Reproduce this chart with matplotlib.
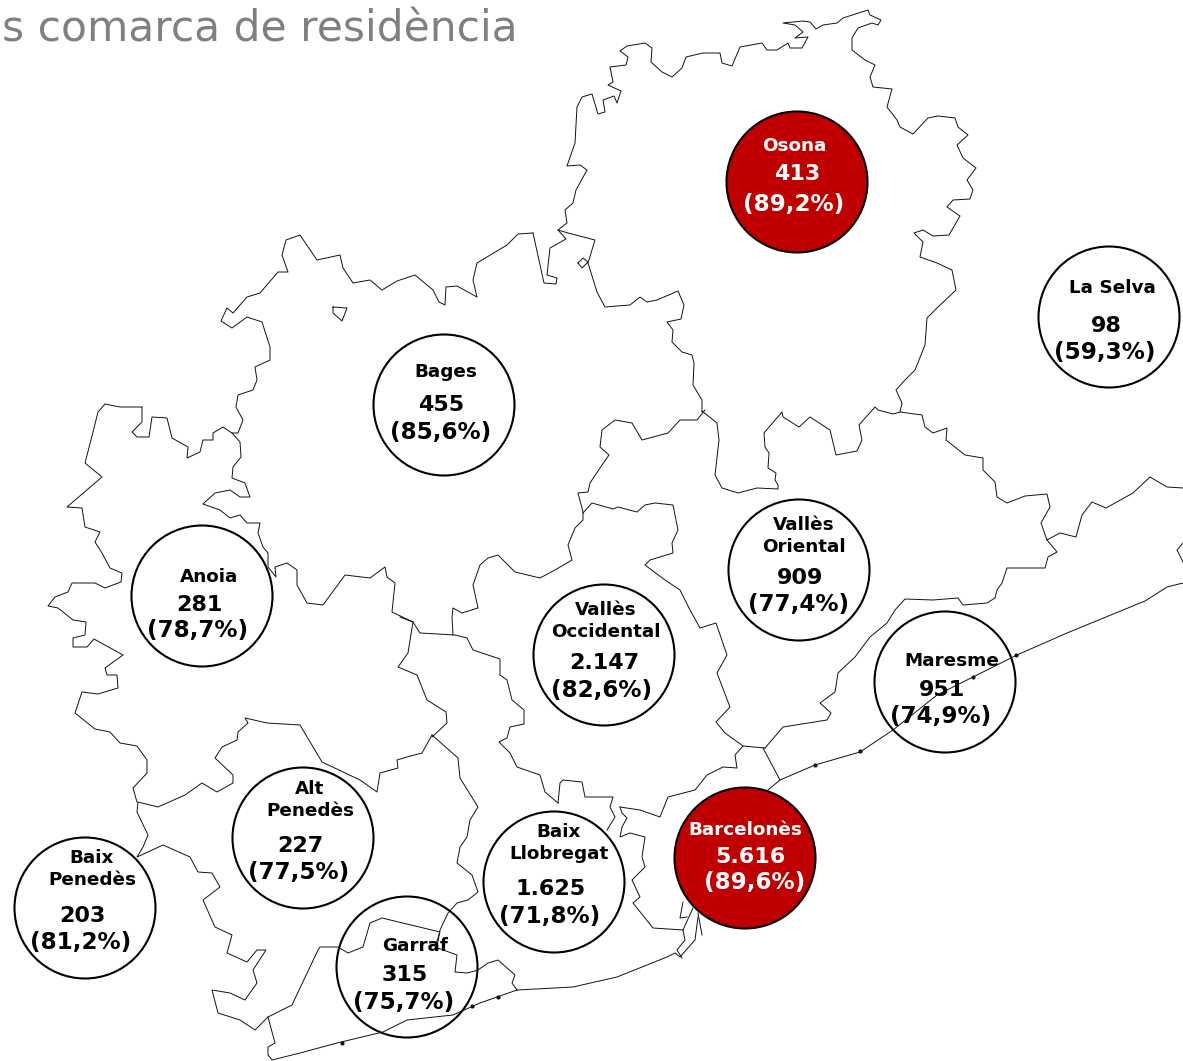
import matplotlib
matplotlib.use('Agg')
import matplotlib.pyplot as plt
from matplotlib.patches import Circle

title = 's comarca de residència'

# comarca names, students and percentages
names = ['Osona', 'Bages', 'La Selva', 'Vallès\nOriental', 'Anoia', 'Vallès\nOccidental',
         'Maresme', 'Alt\nPenedès', 'Baix\nLlobregat', 'Barcelonès', 'Baix\nPenedès', 'Garraf']
counts = ['413', '455', '98', '909', '281', '2.147', '951', '227', '1.625', '5.616', '203', '315']
shares = ['(89,2%)', '(85,6%)', '(59,3%)', '(77,4%)', '(78,7%)', '(82,6%)',
          '(74,9%)', '(77,5%)', '(71,8%)', '(89,6%)', '(81,2%)', '(75,7%)']
highlighted = ['Osona', 'Barcelonès']

# bubble centres on the map (pixels of the picture)
bubble_x = [797, 444, 1109, 799, 202, 604, 945, 303, 554, 745, 85, 407]
bubble_y = [182, 405, 317, 570, 596, 655, 682, 838, 882, 858, 908, 967]

# label anchors
name_x = [794, 446, 1112, 804, 209, 606, 952, 310, 559, 745, 92, 415]
name_y = [146, 372, 288, 536, 577, 621, 661, 800, 843, 830, 869, 946]
count_x = [797, 441, 1106, 800, 199, 604, 942, 300, 551, 750, 82, 405]
count_y = [174, 405, 326, 578, 605, 663, 690, 846, 889, 857, 916, 975]
share_x = [794, 441, 1105, 799, 198, 602, 941, 299, 550, 755, 81, 404]
share_y = [204, 432, 353, 605, 631, 690, 717, 872, 916, 882, 942, 1002]

osona_north = [(533, 233), (544, 283), (556, 284), (557, 278), (547, 275), (550, 248), (566, 239), (558, 230),
               (567, 223), (565, 210), (573, 203), (576, 190), (587, 170), (580, 165), (567, 166), (575, 143),
               (577, 107), (582, 97), (592, 94), (598, 114), (605, 112), (603, 100), (614, 96), (617, 103),
               (621, 91), (608, 85), (613, 82), (610, 67), (626, 65), (628, 57), (620, 51), (627, 46), (645, 43),
               (652, 48), (651, 62), (662, 72), (672, 77), (682, 68), (686, 57), (703, 53), (720, 53), (722, 63),
               (732, 66), (740, 47), (762, 43), (767, 50), (777, 50), (788, 43), (790, 48), (802, 48), (808, 37),
               (795, 38), (803, 32), (795, 25), (783, 23), (803, 21), (810, 22), (816, 29), (823, 25), (837, 23),
               (843, 18), (868, 10), (870, 15), (881, 20), (878, 25), (872, 23), (858, 28), (852, 38), (852, 50),
               (865, 60), (875, 65), (870, 77), (873, 87), (892, 89), (887, 107), (897, 120), (900, 127), (913, 134),
               (928, 118), (938, 116), (955, 118), (958, 127), (968, 135), (957, 145), (963, 158), (976, 168),
               (967, 180), (973, 190), (970, 199), (953, 200), (947, 207), (960, 216), (949, 235), (933, 236),
               (923, 230), (914, 233), (923, 242), (920, 257), (937, 263), (952, 270), (956, 290), (937, 308),
               (927, 318), (925, 345), (915, 370), (905, 380), (896, 390), (902, 403), (900, 412)]
osona_west = [(702, 412), (702, 400), (693, 385), (694, 363), (692, 355), (682, 352), (672, 342), (673, 330),
              (667, 322), (681, 319), (684, 305), (678, 291), (657, 300), (647, 302), (640, 297), (630, 305),
              (605, 307), (597, 292), (588, 263), (595, 240), (568, 233), (558, 230)]
enclave_a = [(333, 307), (347, 308), (342, 321), (333, 313), (333, 307)]
enclave_b = [(578, 263), (583, 258), (588, 262), (582, 268), (578, 263)]
oriental_north = [(702, 411), (717, 423), (719, 440), (715, 475), (722, 488), (738, 493), (757, 488), (778, 489),
                  (778, 485), (775, 480), (776, 473), (768, 468), (769, 453), (765, 447), (764, 433), (782, 412),
                  (783, 417), (799, 427), (810, 417), (830, 430), (836, 455), (857, 451), (862, 440), (859, 425),
                  (875, 407), (878, 410), (893, 414), (900, 412), (922, 415), (925, 427), (933, 433), (947, 428),
                  (946, 440), (965, 455), (983, 458), (983, 470), (995, 482), (997, 497), (1007, 503), (1025, 496),
                  (1047, 494), (1050, 507), (1041, 523), (1047, 540), (1057, 552), (1048, 557), (1045, 568),
                  (1025, 568), (1007, 568), (1002, 583), (997, 590), (995, 598), (987, 603), (963, 605), (958, 598),
                  (933, 600), (905, 599), (895, 610), (887, 623), (870, 637), (855, 657), (838, 673), (835, 692),
                  (820, 703), (831, 713), (827, 720), (783, 727), (765, 748)]
selva_south = [(1047, 540), (1060, 533), (1076, 537), (1082, 515), (1092, 502), (1106, 508), (1133, 493),
               (1150, 477), (1167, 487), (1183, 488)]
edge_piece = [(1183, 543), (1177, 550), (1183, 562)]
coast_north = [(1183, 583), (1167, 587), (1145, 601), (1067, 633), (1017, 655), (973, 677), (937, 695), (893, 730),
               (860, 752), (815, 765), (780, 780), (768, 790)]
maresme_south = [(763, 748), (780, 780)]
occidental_east = [(765, 748), (743, 746), (735, 755), (737, 768), (723, 767), (707, 775), (695, 790), (668, 797),
                   (660, 817), (640, 810), (620, 807)]
oriental_west = [(743, 746), (725, 733), (716, 722), (730, 707), (717, 673), (727, 655), (716, 623), (700, 628),
                 (690, 610), (680, 590), (665, 580), (645, 565), (650, 560), (673, 553), (672, 543), (678, 530),
                 (673, 505), (655, 503), (645, 505), (637, 512), (618, 507), (613, 509), (592, 503), (583, 513)]
llobregat_north = [(558, 803), (560, 783), (563, 780), (582, 782), (585, 797), (613, 797), (610, 807), (615, 817),
                   (607, 830)]
barcelones_west = [(620, 807), (622, 813), (627, 818), (622, 827), (620, 837), (630, 833), (645, 837), (642, 857),
                   (645, 867), (632, 880), (640, 897), (633, 903), (653, 928), (683, 930), (693, 908)]
coast_delta = [(698, 917), (695, 940), (680, 957), (675, 953), (667, 957), (617, 977), (573, 987), (517, 990)]
delta_a = [(683, 902), (680, 918), (687, 917)]
delta_b = [(683, 930), (685, 940), (677, 950), (682, 958)]
delta_c = [(698, 913), (702, 935)]
occidental_west = [(400, 617), (413, 622), (420, 633), (455, 635), (467, 638), (473, 650), (500, 659), (500, 675),
                   (507, 680), (512, 700), (524, 710), (524, 724), (510, 727), (507, 738), (499, 742), (510, 753),
                   (517, 767), (540, 775), (545, 792), (558, 803)]
occidental_north = [(453, 635), (452, 617), (453, 608), (462, 613), (478, 608), (473, 585), (480, 565), (488, 558),
                    (498, 555), (503, 560), (515, 572), (540, 578), (555, 570), (572, 560), (568, 545), (575, 528),
                    (583, 520), (583, 512), (578, 493), (588, 492), (590, 483), (602, 465), (609, 455), (600, 447),
                    (602, 430), (615, 420), (632, 423), (642, 440), (668, 433), (680, 420), (697, 420), (705, 410)]
bages_north = [(533, 233), (518, 234), (507, 245), (487, 257), (477, 263), (473, 280),
               (477, 297), (457, 286), (446, 287), (445, 305), (439, 302), (433, 290), (415, 275), (397, 281),
               (382, 290), (370, 280), (353, 283), (343, 268), (340, 255), (317, 260), (300, 235), (286, 240),
               (282, 255), (288, 272), (278, 272), (260, 293), (247, 297), (233, 313), (227, 308), (221, 321),
               (232, 328), (247, 317), (262, 322), (270, 347), (270, 360), (255, 367), (257, 380), (253, 390),
               (238, 395), (236, 407), (243, 420), (238, 433), (232, 433)]
anoia_west = [(142, 407), (120, 407), (105, 404), (98, 412), (93, 432), (85, 463), (102, 477), (67, 507), (82, 508),
              (85, 527), (100, 532), (95, 542), (102, 553), (110, 568), (122, 573), (121, 582), (105, 588),
              (95, 583), (72, 583), (68, 592), (55, 597), (48, 606), (58, 608), (73, 620), (86, 622), (85, 635),
              (73, 638), (73, 647), (87, 647), (94, 639), (123, 655), (105, 668), (107, 675), (117, 675), (118, 688),
              (98, 694), (82, 692), (75, 713), (95, 729), (110, 732), (120, 743), (137, 746), (147, 760), (147, 773),
              (133, 788), (137, 802)]
anoia_north = [(142, 407), (142, 422), (132, 432), (137, 437), (149, 437), (152, 417), (167, 418), (172, 438),
               (188, 447), (187, 458), (200, 452), (203, 440), (213, 440), (213, 433), (223, 427), (232, 433),
               (240, 442), (241, 457), (233, 467), (232, 478), (245, 483), (250, 497), (240, 497), (230, 490),
               (215, 493), (203, 504), (220, 510), (230, 518), (240, 515), (247, 523), (260, 523), (258, 533),
               (263, 547), (268, 553), (268, 567), (276, 577), (275, 567), (287, 563), (297, 570), (297, 585),
               (307, 603), (323, 605), (345, 575), (370, 578), (385, 567), (387, 577), (395, 583), (392, 612),
               (413, 622)]
anoia_east = [(413, 622), (408, 653), (398, 667), (417, 675), (427, 700), (446, 712), (447, 723), (432, 737)]
penedes_north = [(432, 735), (422, 753), (407, 757), (397, 760), (398, 768), (380, 773), (377, 792), (360, 780),
                 (322, 762), (300, 725), (267, 723), (245, 718), (248, 723), (238, 732), (237, 740), (222, 747),
                 (215, 758), (233, 775), (233, 783), (217, 792), (202, 783), (185, 795), (158, 807), (138, 802),
                 (137, 812), (148, 835), (143, 847), (137, 857), (163, 845), (190, 857), (198, 872), (212, 873),
                 (220, 887), (203, 900), (215, 927), (232, 935), (227, 953), (247, 962), (257, 950), (266, 950),
                 (253, 970), (257, 983), (245, 1000), (230, 993), (212, 990), (218, 1013), (240, 1020), (255, 1030),
                 (268, 1017), (292, 1005), (318, 950), (320, 947), (338, 947), (348, 953), (363, 947), (370, 923),
                 (382, 918), (440, 932), (435, 947), (457, 955), (455, 972), (467, 973), (478, 970), (488, 963),
                 (498, 960), (515, 975), (512, 983), (517, 990)]
garraf_east = [(432, 735), (458, 758), (460, 778), (478, 807), (470, 820), (467, 837), (460, 847), (457, 863),
               (472, 875), (478, 892), (468, 900), (457, 903), (448, 913), (440, 930), (437, 947)]
coast_south = [(268, 1017), (275, 1043), (268, 1047), (268, 1055), (272, 1060), (300, 1053), (337, 1043), (383, 1032),
               (407, 1020), (453, 1015), (480, 1003), (517, 990)]

# small dark blobs where the coast has harbours
coast_spots = [(1016, 655), (973, 677), (860, 751), (815, 765), (498, 997), (472, 1006), (342, 1043)]

borders = [osona_north, osona_west, enclave_a, enclave_b, oriental_north, selva_south, edge_piece, coast_north,
           maresme_south, occidental_east, oriental_west, llobregat_north, barcelones_west, coast_delta, delta_a,
           delta_b, delta_c, occidental_west, occidental_north, bages_north, anoia_west, anoia_north, anoia_east,
           penedes_north, garraf_east, coast_south]

fig = plt.figure(figsize=(11.83, 10.61), dpi=100)
ax = fig.add_axes([0, 0, 1, 1])
ax.set_xlim(0, 1183)
ax.set_ylim(1061, 0)
ax.axis('off')

for border in borders:
    ax.plot([p[0] for p in border], [p[1] for p in border], color='#111111', lw=0.7, zorder=2)
ax.plot([p[0] for p in coast_spots], [p[1] for p in coast_spots], 'o', color='#111111', ms=3, mew=0, zorder=2)

ax.text(2, 30, title, color='#808080', fontsize=30.5, va='center', ha='left')

for i, name in enumerate(names):
    hot = name in highlighted
    ax.add_patch(Circle((bubble_x[i], bubble_y[i]), 70.5, facecolor='#C00000' if hot else 'none',
                        edgecolor='black', lw=1.5, zorder=3 if hot else 1))
    color = 'white' if hot else 'black'
    ax.text(name_x[i], name_y[i], name, color=color, fontsize=13.2, fontweight='bold', ha='center',
            va='center', linespacing=1.3, zorder=4)
    ax.text(count_x[i], count_y[i], counts[i], color=color, fontsize=16, fontweight='bold', ha='center',
            va='center', zorder=4)
    ax.text(share_x[i], share_y[i], shares[i], color=color, fontsize=16.6, fontweight='bold', ha='center',
            va='center', zorder=4)

fig.savefig('out.png', dpi=100)
